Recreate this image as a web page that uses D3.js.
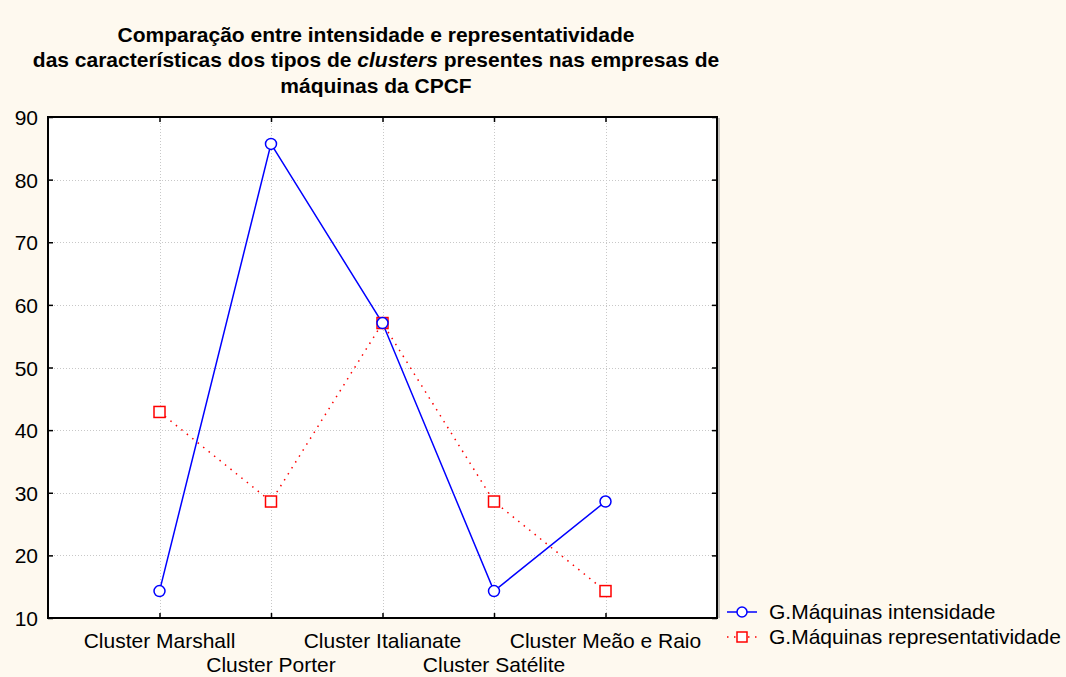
<!DOCTYPE html>
<html>
<head>
<meta charset="utf-8">
<script src="https://cdn.jsdelivr.net/npm/d3@7"></script>
<style>
  html, body { margin: 0; padding: 0; background: #FEF9EF; }
  svg { display: block; font-family: "Liberation Sans", Arial, sans-serif; }
</style>
</head>
<body>
<svg id="chart" width="1066" height="677"></svg>
<script>
// Cluster categories along the x axis
const categories = ["Cluster Marshall", "Cluster Porter", "Cluster Italianate", "Cluster Satélite", "Cluster Meão e Raio"];
// Series values (%)
const intensidade = [14.3, 85.7, 57.1, 14.3, 28.6];
const representatividade = [42.9, 28.6, 57.1, 28.6, 14.3];
const seriesNames = ["G.Máquinas intensidade", "G.Máquinas representatividade"];
const yTicks = [10, 20, 30, 40, 50, 60, 70, 80, 90];

const svg = d3.select("#chart");
const W = 1066, H = 677;
const plot = { left: 48, right: 717, top: 117, bottom: 618 };
const FS = 21;

svg.append("rect").attr("width", W).attr("height", H).attr("fill", "#FEF9EF");

const x = d3.scaleLinear().domain([0, categories.length + 1]).range([plot.left, plot.right]);
const y = d3.scaleLinear().domain([10, 90]).range([plot.bottom, plot.top]);

// plot background
svg.append("rect")
  .attr("x", plot.left).attr("y", plot.top)
  .attr("width", plot.right - plot.left).attr("height", plot.bottom - plot.top)
  .attr("fill", "#ffffff");

// gridlines
const grid = svg.append("g").attr("stroke", "#c8c8c8").attr("stroke-width", 1).attr("stroke-dasharray", "1,2");
grid.selectAll("line.h").data(yTicks.slice(1, -1)).join("line")
  .attr("x1", plot.left).attr("x2", plot.right)
  .attr("y1", d => Math.round(y(d)) + 0.5).attr("y2", d => Math.round(y(d)) + 0.5);
grid.selectAll("line.v").data(categories).join("line")
  .attr("y1", plot.top).attr("y2", plot.bottom)
  .attr("x1", (d, i) => Math.round(x(i + 1)) + 0.5).attr("x2", (d, i) => Math.round(x(i + 1)) + 0.5);

// axes with inward ticks on all four sides
const tickLen = 5;
const yAxisL = d3.axisLeft(y).tickValues(yTicks).tickSize(-tickLen).tickPadding(10);
const yAxisR = d3.axisRight(y).tickValues(yTicks).tickSize(-tickLen).tickFormat("");
const xAxisB = d3.axisBottom(x).tickValues(categories.map((d, i) => i + 1)).tickSize(-tickLen).tickFormat("");
const xAxisT = d3.axisTop(x).tickValues(categories.map((d, i) => i + 1)).tickSize(-tickLen).tickFormat("");

function styleAxis(g) {
  g.select(".domain").remove();
  g.selectAll(".tick line").attr("stroke", "#000").attr("stroke-width", 1.5);
  g.selectAll("text").attr("fill", "#000").attr("font-size", FS)
    .attr("font-family", "'Liberation Sans', Arial, sans-serif");
}
svg.append("g").attr("transform", `translate(${plot.left},0)`).call(yAxisL).call(styleAxis)
  .selectAll(".tick text").attr("dy", "0.36em");
svg.append("g").attr("transform", `translate(${plot.right},0)`).call(yAxisR).call(styleAxis);
svg.append("g").attr("transform", `translate(0,${plot.bottom})`).call(xAxisB).call(styleAxis);
svg.append("g").attr("transform", `translate(0,${plot.top})`).call(xAxisT).call(styleAxis);

// category labels staggered on two rows
svg.append("g").selectAll("text").data(categories).join("text")
  .attr("x", (d, i) => x(i + 1))
  .attr("y", (d, i) => i % 2 === 0 ? 648 : 672)
  .attr("text-anchor", "middle").attr("font-size", FS).attr("fill", "#000")
  .text(d => d);

// frame with slight shadow on the right
svg.append("line").attr("x1", plot.right + 2).attr("x2", plot.right + 2)
  .attr("y1", plot.top + 1).attr("y2", plot.bottom).attr("stroke", "#888").attr("stroke-width", 1);
svg.append("rect")
  .attr("x", plot.left).attr("y", plot.top)
  .attr("width", plot.right - plot.left).attr("height", plot.bottom - plot.top)
  .attr("fill", "none").attr("stroke", "#000").attr("stroke-width", 2);

const line = d3.line().x((d, i) => x(i + 1)).y(d => y(d));

// representatividade: red dotted line, square markers
svg.append("path").datum(representatividade)
  .attr("d", line).attr("fill", "none").attr("stroke", "#ff0000")
  .attr("stroke-width", 1.5).attr("stroke-dasharray", "1.5,5.5");
// intensidade: blue solid line, circle markers
svg.append("path").datum(intensidade)
  .attr("d", line).attr("fill", "none").attr("stroke", "#0000ff").attr("stroke-width", 1.5);

svg.append("g").selectAll("rect").data(representatividade).join("rect")
  .attr("x", (d, i) => x(i + 1) - 5.5).attr("y", d => y(d) - 5.5)
  .attr("width", 11).attr("height", 11)
  .attr("fill", "#fff").attr("stroke", "#ff0000").attr("stroke-width", 1.5);
svg.append("g").selectAll("circle").data(intensidade).join("circle")
  .attr("cx", (d, i) => x(i + 1)).attr("cy", d => y(d)).attr("r", 5.5)
  .attr("fill", "#fff").attr("stroke", "#0000ff").attr("stroke-width", 1.5);

// title
const title = svg.append("text").attr("text-anchor", "middle").attr("font-weight", "bold")
  .attr("font-size", FS).attr("fill", "#000");
title.append("tspan").attr("x", 376).attr("y", 42).text("Comparação entre intensidade e representatividade");
const t2 = title.append("tspan").attr("x", 376).attr("y", 67);
t2.append("tspan").text("das características dos tipos de ");
t2.append("tspan").attr("font-style", "italic").text("clusters");
t2.append("tspan").text(" presentes nas empresas de");
title.append("tspan").attr("x", 376).attr("y", 93).text("máquinas da CPCF");

// legend
const legend = svg.append("g");
const legY = [612, 637];
legend.append("line").attr("x1", 727).attr("x2", 757).attr("y1", legY[0]).attr("y2", legY[0])
  .attr("stroke", "#0000ff").attr("stroke-width", 1.5);
legend.append("circle").attr("cx", 742).attr("cy", legY[0]).attr("r", 5)
  .attr("fill", "#fff").attr("stroke", "#0000ff").attr("stroke-width", 1.5);
legend.append("line").attr("x1", 727).attr("x2", 757).attr("y1", legY[1]).attr("y2", legY[1])
  .attr("stroke", "#ff0000").attr("stroke-width", 1.5).attr("stroke-dasharray", "1.5,5.5");
legend.append("rect").attr("x", 737).attr("y", legY[1] - 5).attr("width", 10).attr("height", 10)
  .attr("fill", "#fff").attr("stroke", "#ff0000").attr("stroke-width", 1.5);
legend.selectAll("text").data(seriesNames).join("text")
  .attr("x", 769).attr("y", (d, i) => legY[i] + 7)
  .attr("font-size", FS).attr("fill", "#000").text(d => d);
</script>
</body>
</html>
